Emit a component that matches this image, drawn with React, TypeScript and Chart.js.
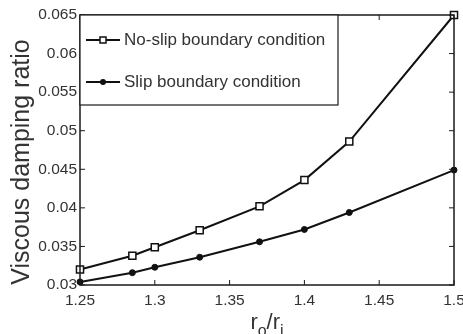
import { useEffect, useRef } from "react";
import { Chart, registerables } from "chart.js";

Chart.register(...registerables);

const ratios = [1.25, 1.285, 1.3, 1.33, 1.37, 1.4, 1.43, 1.5];
const noSlip = [0.032, 0.0338, 0.0349, 0.0371, 0.0402, 0.0436, 0.0486, 0.065];
const slip = [0.0304, 0.0316, 0.0323, 0.0336, 0.0356, 0.0372, 0.0394, 0.0449];
const seriesLabels = ["No-slip boundary condition", "Slip boundary condition"];
const xTicks = [1.25, 1.3, 1.35, 1.4, 1.45, 1.5];
const xTickLabels = ["1.25", "1.3", "1.35", "1.4", "1.45", "1.5"];
const yTicks = [0.03, 0.035, 0.04, 0.045, 0.05, 0.055, 0.06, 0.065];
const yTickLabels = ["0.03", "0.035", "0.04", "0.045", "0.05", "0.055", "0.06", "0.065"];
const yTitle = "Viscous damping ratio";

const FONT = "Arial, 'Liberation Sans', sans-serif";
const TEXT = "#333333";

const framePlugin = {
  id: "frame",
  afterDraw(chart: any) {
    const { ctx, chartArea } = chart;
    const { left, right, top, bottom } = chartArea;
    const xs = chart.scales.x;
    const ys = chart.scales.y;
    ctx.save();
    ctx.strokeStyle = "#1a1a1a";
    ctx.lineWidth = 1.5;
    ctx.strokeRect(left, top, right - left, bottom - top);
    ctx.lineWidth = 1;
    const tl = 5;
    ctx.beginPath();
    xTicks.forEach((v) => {
      const p = xs.getPixelForValue(v);
      ctx.moveTo(p, bottom);
      ctx.lineTo(p, bottom - tl);
      ctx.moveTo(p, top);
      ctx.lineTo(p, top + tl);
    });
    yTicks.forEach((v) => {
      const p = ys.getPixelForValue(v);
      ctx.moveTo(left, p);
      ctx.lineTo(left + tl, p);
      ctx.moveTo(right, p);
      ctx.lineTo(right - tl, p);
    });
    ctx.stroke();

    // legend
    const lx = left;
    const ly = top;
    const lw = 258;
    const lh = 90;
    ctx.fillStyle = "#ffffff";
    ctx.fillRect(lx, ly, lw, lh);
    ctx.strokeStyle = "#1a1a1a";
    ctx.lineWidth = 1.2;
    ctx.strokeRect(lx, ly, lw, lh);
    const rows = [ly + 25, ly + 67];
    chart.data.datasets.forEach((ds: any, i: number) => {
      const y = rows[i];
      ctx.strokeStyle = "#111";
      ctx.lineWidth = 2;
      ctx.beginPath();
      ctx.moveTo(lx + 6, y);
      ctx.lineTo(lx + 40, y);
      ctx.stroke();
      if (ds.pointStyle === "rect") {
        ctx.fillStyle = "#fff";
        ctx.lineWidth = 1.5;
        ctx.fillRect(lx + 20, y - 3, 6, 6);
        ctx.strokeRect(lx + 20, y - 3, 6, 6);
      } else {
        ctx.fillStyle = "#111";
        ctx.beginPath();
        ctx.arc(lx + 23, y, 3, 0, Math.PI * 2);
        ctx.fill();
      }
      ctx.fillStyle = TEXT;
      ctx.font = `17px ${FONT}`;
      ctx.textAlign = "left";
      ctx.textBaseline = "middle";
      ctx.fillText(ds.label, lx + 44, y);
    });

    // y title
    ctx.save();
    ctx.translate(22, 162);
    ctx.rotate(-Math.PI / 2);
    ctx.fillStyle = TEXT;
    ctx.font = `25px ${FONT}`;
    ctx.textAlign = "center";
    ctx.textBaseline = "middle";
    ctx.fillText(yTitle, 0, 0);
    ctx.restore();

    // x title r_o / r_i
    const parts: [string, boolean][] = [
      ["r", false],
      ["o", true],
      ["/", false],
      ["r", false],
      ["i", true],
    ];
    const big = `22px ${FONT}`;
    const small = `16px ${FONT}`;
    let total = 0;
    parts.forEach(([t, sub]) => {
      ctx.font = sub ? small : big;
      total += ctx.measureText(t).width;
    });
    let cx = (left + right) / 2 - total / 2;
    const base = 329;
    ctx.fillStyle = TEXT;
    ctx.textAlign = "left";
    ctx.textBaseline = "alphabetic";
    parts.forEach(([t, sub]) => {
      ctx.font = sub ? small : big;
      ctx.fillText(t, cx, sub ? base + 7 : base);
      cx += ctx.measureText(t).width;
    });
    ctx.restore();
  },
};

export default function App() {
  const ref = useRef<HTMLCanvasElement | null>(null);
  useEffect(() => {
    document.body.style.margin = "0";
    if (!ref.current) return;
    const chart = new Chart(ref.current, {
      type: "line",
      data: {
        datasets: [
          {
            label: seriesLabels[0],
            data: ratios.map((x, i) => ({ x, y: noSlip[i] })),
            borderColor: "#111",
            borderWidth: 2,
            pointStyle: "rect",
            pointRadius: 5,
            pointBackgroundColor: "#fff",
            pointBorderColor: "#111",
            pointBorderWidth: 1.5,
            clip: false,
          },
          {
            label: seriesLabels[1],
            data: ratios.map((x, i) => ({ x, y: slip[i] })),
            borderColor: "#111",
            borderWidth: 2,
            pointStyle: "circle",
            pointRadius: 3,
            pointBackgroundColor: "#111",
            pointBorderColor: "#111",
            pointBorderWidth: 1,
            clip: false,
          },
        ],
      },
      options: {
        responsive: false,
        animation: false,
        layout: { padding: { top: 15, right: 9, left: 0, bottom: 0 } },
        plugins: { legend: { display: false }, tooltip: { enabled: false } },
        scales: {
          x: {
            type: "linear",
            min: 1.25,
            max: 1.5,
            afterBuildTicks: (s: any) => {
              s.ticks = xTicks.map((v) => ({ value: v }));
            },
            afterFit: (s: any) => {
              s.height = 49;
              s.paddingLeft = 0;
              s.paddingRight = 0;
            },
            grid: { display: false, drawTicks: false },
            border: { display: false },
            ticks: {
              padding: 6,
              maxRotation: 0,
              autoSkip: false,
              color: TEXT,
              font: { family: FONT, size: 15.5 },
              callback: (_v: any, i: number) => xTickLabels[i],
            },
          },
          y: {
            type: "linear",
            min: 0.03,
            max: 0.065,
            afterBuildTicks: (s: any) => {
              s.ticks = yTicks.map((v) => ({ value: v }));
            },
            afterFit: (s: any) => {
              s.width = 80;
            },
            grid: { display: false, drawTicks: false },
            border: { display: false },
            ticks: {
              padding: 3,
              autoSkip: false,
              color: TEXT,
              font: { family: FONT, size: 15.5 },
              callback: (_v: any, i: number) => yTickLabels[i],
            },
          },
        },
      },
      plugins: [framePlugin],
    });
    return () => chart.destroy();
  }, []);
  return (
    <div style={{ width: 463, height: 334 }}>
      <canvas ref={ref} width={463} height={334} style={{ display: "block" }} />
    </div>
  );
}
